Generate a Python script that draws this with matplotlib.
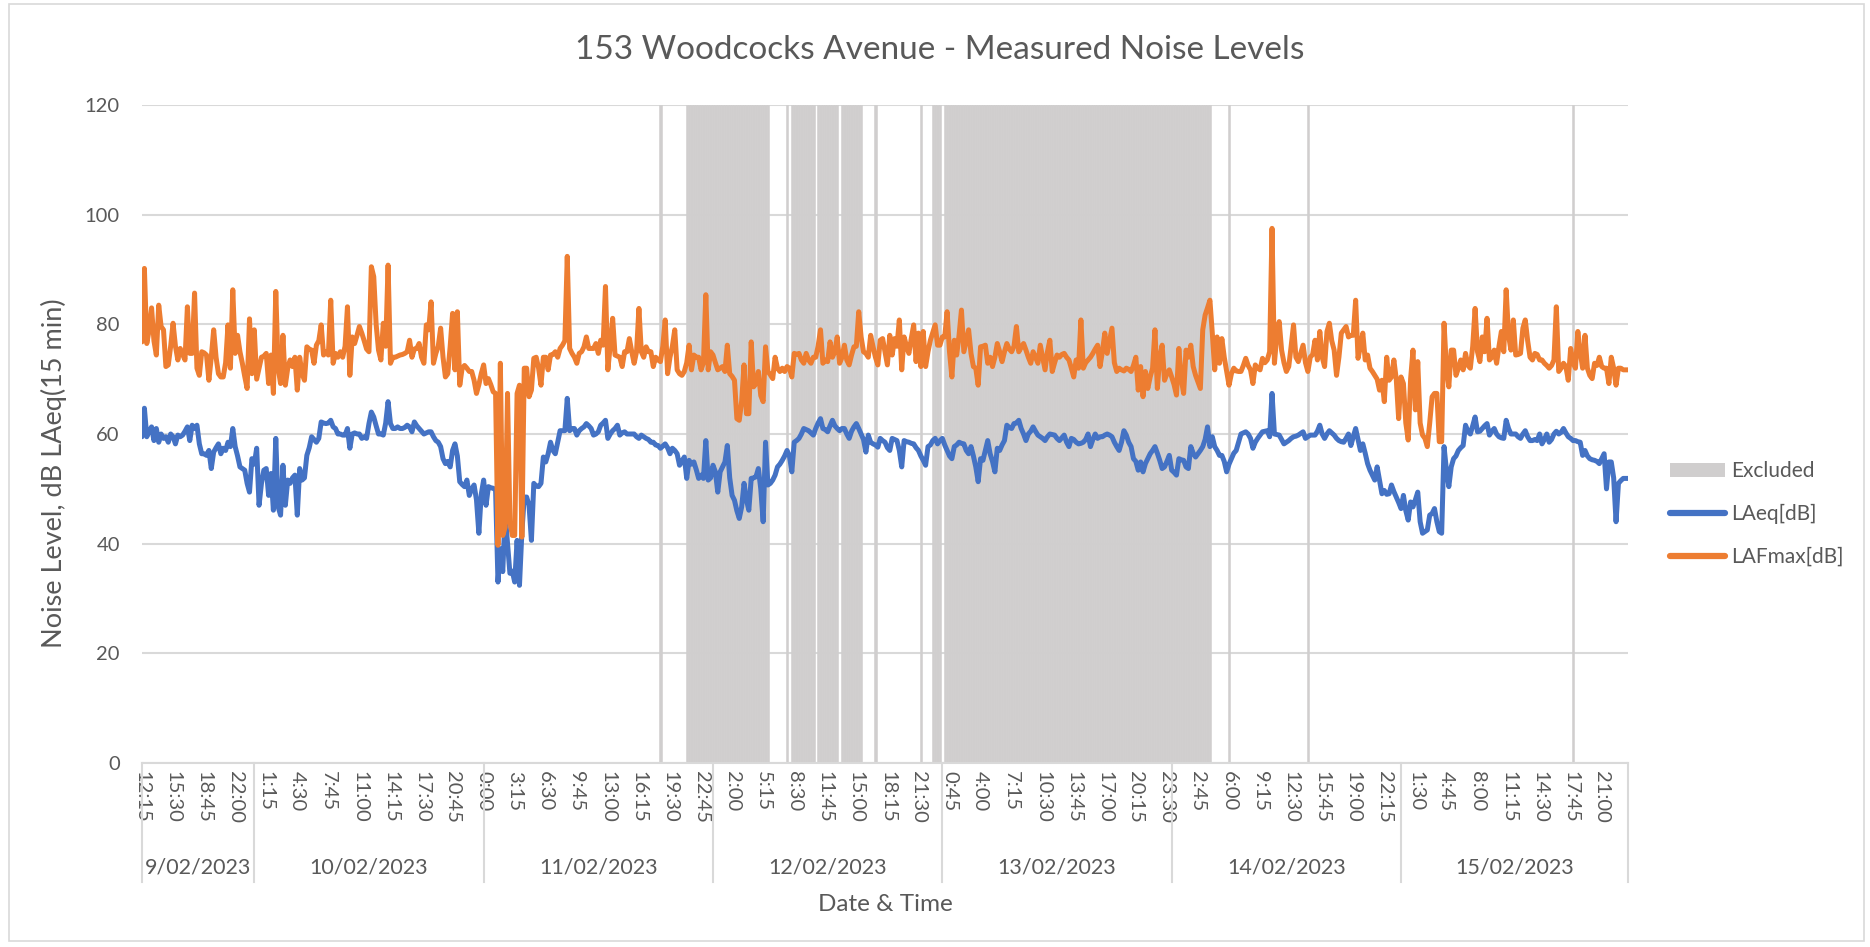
import matplotlib
matplotlib.use('Agg')
import matplotlib.pyplot as plt
import matplotlib.transforms as mtransforms
from matplotlib.patches import Patch, Rectangle
from matplotlib.lines import Line2D
import numpy as np
import pandas as pd

plt.rcParams['font.family'] = ['Lato', 'DejaVu Sans']

# ---------------- data ----------------
start_time = '2023-02-09 12:15'
n_points = 623
times = pd.date_range(start_time, periods=n_points, freq='15min')

laeq = [
    59.5, 64.7, 59.5, 60.5, 61.3, 58.8, 61, 58.5, 60, 59.2,
    59.5, 58.5, 60, 59.5, 58.2, 59.8, 59.5, 59.8, 60.5, 61.3,
    58.8, 61.6, 61, 61.6, 58.2, 56.4, 56.4, 56.1, 57, 53.7,
    56.7, 57.5, 58.2, 56.4, 57.4, 57, 58.5, 57.7, 61, 57.7,
    56, 54, 53.7, 53.4, 51, 49.4, 55.5, 54.5, 57.4, 47,
    51, 53.4, 53.7, 48.8, 52.8, 46.1, 59.2, 46.7, 45.2, 54.3,
    47, 51.6, 51, 52, 52.5, 45.2, 53.7, 51.6, 52, 56.1,
    57.5, 59.5, 59, 58.5, 59.2, 62.2, 62, 61.9, 62, 62.5,
    61.3, 61, 60, 60, 59.8, 59.8, 61, 57.4, 60, 60.2,
    60, 60, 59.2, 59.5, 59.2, 61.9, 64, 63.1, 61.5, 60,
    60, 59.8, 62, 65.9, 61.9, 61, 61, 61.3, 61, 61,
    61.2, 61.6, 61.3, 60.4, 62.2, 61.5, 61, 60.5, 60, 60.2,
    60.4, 60.4, 59.5, 58.8, 58.5, 57.7, 55.5, 54.6, 55, 54,
    57, 58.2, 56, 51.3, 50.8, 50.4, 51.6, 48.8, 50, 50.7,
    48, 41.9, 49, 51.6, 47, 50.4, 50.2, 50.1, 49.8, 33,
    39.1, 34.9, 45.5, 40, 34.6, 35, 33, 40.6, 32.4, 42,
    48.5, 48.5, 47, 40.6, 51, 50.5, 50.4, 51, 55.8, 54.9,
    56.4, 58.5, 57, 56.4, 58.5, 60.6, 60.6, 60.6, 66.5, 60.6,
    61, 61, 59.8, 60.6, 61, 61.3, 61.9, 61.5, 61, 59.8,
    60, 60.4, 61.6, 62, 62.5, 59.2, 60, 60.6, 61, 61.6,
    59.8, 60.2, 60.4, 60, 60, 60, 60, 59.5, 59.2, 59.8,
    59.5, 59.2, 59, 58.5, 58.5, 58, 57.9, 57.4, 57.8, 58.2,
    57.5, 56.4, 57.4, 57, 56.4, 54.3, 55, 55.8, 51.9, 55.2,
    54.5, 54.9, 53.5, 51.9, 52.5, 51.9, 58.8, 51.6, 52, 54.3,
    53.1, 49.4, 53.1, 54, 54.9, 57.9, 52, 48.8, 47.9, 46,
    44.6, 46.7, 51, 48, 46.1, 51.9, 52, 52.2, 53.7, 50,
    44, 58.5, 50.7, 51, 51.6, 52.5, 54, 54.5, 55.2, 56,
    57, 56, 53.1, 58.5, 58.8, 59.2, 60, 61, 60.8, 60.6,
    60.2, 59.8, 61, 62, 62.8, 61, 60.8, 60.4, 61.5, 62.5,
    61.5, 61, 60.6, 61, 61, 60, 59.2, 60.5, 61.3, 61.9,
    61, 60, 59, 56.7, 59.8, 58.5, 58.2, 58, 57.6, 59.2,
    58.8, 58.5, 57.5, 57, 59.2, 59, 58.8, 57, 54, 58.8,
    58.6, 58.5, 58.3, 58.2, 57.5, 57, 56, 55.2, 54.3, 57.7,
    58, 58.8, 59.2, 58.2, 58.8, 59.2, 58, 57, 56, 55.5,
    57.7, 58, 58.5, 58.3, 58.2, 57, 56.4, 57.7, 56, 54,
    51.3, 55.5, 55.2, 57, 58.8, 56.4, 55, 53.1, 57.4, 57,
    58, 58.8, 61.6, 61.2, 61, 61.9, 62, 62.5, 61, 60,
    58.8, 60, 60.5, 61.3, 60.5, 59.8, 59.5, 59.2, 58.8, 59.5,
    60, 59.9, 59.8, 59.2, 58.8, 59.3, 59.8, 58.5, 57.7, 59.2,
    59, 58.5, 58.2, 58.3, 58.5, 59, 60, 57.7, 59, 60,
    59.2, 59.5, 59.5, 59.8, 60, 59.8, 59.5, 58.5, 57.7, 57,
    58.5, 60.6, 59.8, 58.5, 57.7, 55.5, 55, 53.4, 54.9, 53.1,
    54.6, 55.5, 56.4, 57, 57.7, 56.5, 55.2, 53.7, 54, 55,
    56.1, 53.4, 53, 52.5, 55.5, 55.3, 55.2, 54, 53.7, 57.7,
    56.5, 55.8, 56.4, 57, 57.7, 59, 61.3, 57.7, 59.5, 57.7,
    57, 56.1, 56.1, 55, 53.1, 54.5, 55.5, 56.5, 57, 58.5,
    60, 60.2, 60.4, 60, 59.2, 57.4, 58.5, 59.2, 59.8, 60.4,
    60.5, 60.6, 59.5, 67.4, 60, 59.9, 59.8, 59, 58.2, 58.5,
    58.8, 59.2, 59.5, 59.6, 59.8, 60.1, 60.4, 59.2, 59.5, 59.8,
    59.8, 59.8, 60.5, 61.6, 60, 59.2, 60, 60.6, 60.2, 59.8,
    59.2, 58.8, 58.6, 58.5, 59.2, 60, 57.9, 59.5, 61, 59,
    57, 58.2, 56.5, 54.6, 53.4, 52.5, 51.6, 54, 51.5, 49.1,
    49.7, 49, 49.1, 50.7, 49.5, 48.5, 47.5, 46.4, 48.8, 46,
    44.3, 47.6, 46.7, 48, 49.4, 44, 41.9, 42.2, 42.5, 45.2,
    45.5, 46.4, 44, 42.2, 41.9, 57.7, 53.4, 50.4, 54, 55.5,
    56, 57, 57.5, 57.9, 61.6, 60.5, 60, 61.5, 63.1, 60.4,
    60.5, 61, 61.5, 61.9, 59.8, 60.5, 61, 60, 59.5, 59.3,
    59.2, 62.5, 61, 60, 60, 60, 59.5, 59.2, 60, 60.6,
    59.5, 58.8, 58.8, 59, 58.8, 60, 58.2, 59, 60, 58.5,
    59, 60, 60.5, 60, 60.3, 61, 60.2, 59.5, 59.2, 58.8,
    58.8, 58.6, 58.5, 56.1, 57, 56, 55.5, 55.3, 55.2, 55,
    54.6, 55.5, 56.4, 50, 54.9, 54.9, 52, 44, 51, 51.5,
    51.9, 51.9, 51.9,
]

lafmax = [
    76.8, 90.2, 76.5, 79, 83, 77, 74.4, 83.5, 79.6, 79,
    72.3, 72.6, 76, 80.2, 76, 73.5, 75.6, 74.5, 73.5, 83.2,
    74.7, 74.7, 85.7, 72, 70.7, 75, 74.8, 74.4, 69.8, 74,
    79, 74, 71, 70.4, 70.4, 73, 79.9, 72, 86.3, 74.7,
    78, 75, 72.9, 70.5, 68.3, 81, 71, 79, 70, 72,
    74, 74.2, 74.7, 69.2, 74.4, 67.4, 86, 72, 69.2, 78,
    68.9, 72, 73.5, 72.3, 74, 68, 74, 71, 69.8, 75.9,
    75.5, 75.3, 72.9, 76.2, 77, 79.9, 74.4, 75, 74.4, 84.4,
    72.9, 74.7, 74, 75, 74, 76, 83.2, 70.7, 77.7, 76.5,
    78, 79.6, 78.4, 77, 75.5, 75, 90.5, 88.7, 80, 75.3,
    73.5, 80.2, 76, 90.8, 72.9, 74, 74, 74.2, 74.4, 74.5,
    74.7, 75, 77.1, 74, 75.5, 75.6, 76.5, 74, 72.9, 79.9,
    79, 84.1, 72.9, 74.7, 76, 79.3, 74, 70.4, 71, 76,
    82, 71.7, 82.3, 68.9, 72, 72.5, 72, 71.4, 71.4, 69.8,
    67.4, 69, 71, 72.6, 69.2, 70.1, 69, 67.7, 67.4, 39.7,
    72.9, 41.5, 43, 67.4, 44, 41.5, 41.5, 67.4, 68.9, 41.2,
    72, 72, 66.8, 68, 73.8, 74, 72, 68.9, 74, 74,
    71.7, 74.4, 74.5, 75, 74, 75.6, 76.2, 77, 92.4, 75.6,
    74.7, 74, 72.9, 74.7, 75, 75.9, 77.7, 75.6, 75.6, 75.6,
    76.5, 74.7, 77.1, 76.2, 86.9, 71.7, 76.2, 81.1, 74.4, 74.2,
    74, 72.3, 75, 75, 77.4, 75, 72.9, 75, 82.9, 75,
    74, 75.9, 75, 75, 72.3, 74, 73.5, 73.2, 76, 80.8,
    71, 74, 76, 79, 71.7, 71, 70.7, 71.4, 73, 76.2,
    71.7, 74.4, 74, 74, 71.7, 73, 85.4, 71.7, 75, 74.4,
    73, 71.7, 72, 72.3, 71.4, 76.2, 71, 70.5, 69.8, 62.8,
    62.5, 66, 72.6, 63.7, 63.7, 76.8, 68.6, 69.2, 71.4, 67,
    65.9, 75.9, 71.4, 70.8, 70.1, 74, 72, 71.4, 72, 71.4,
    72.3, 72, 70.4, 74.7, 74.5, 74.7, 73.5, 72.9, 74.7, 73.5,
    72.9, 74, 74, 76, 79, 72.9, 73.5, 73.2, 76.8, 74,
    75, 77.7, 72.9, 74, 76.2, 73.5, 72.6, 74.4, 75.9, 76,
    82.3, 77.7, 75, 74.7, 74, 78, 75.9, 74, 72.6, 77.1,
    77.4, 75, 72.6, 78, 74.4, 77.4, 76, 80.8, 71.7, 77.7,
    76, 74.7, 77.4, 79.9, 73.2, 78.4, 72.3, 78.7, 72.3, 75,
    77.1, 78.5, 79.9, 76.2, 76.2, 77.7, 77.7, 82.3, 75, 70.4,
    77.1, 74.4, 78, 82.6, 75, 77, 79, 74.7, 72.3, 72,
    68.9, 75.9, 76, 76.2, 72.9, 74, 72.3, 74, 76.5, 75,
    73.2, 75, 76.5, 75.5, 75, 76, 79.6, 75, 75.8, 76.5,
    75.3, 74, 72.9, 75, 74, 72.9, 76.2, 74, 71.7, 75,
    77.1, 71.4, 73, 74.4, 74, 74.5, 74.7, 74, 73.5, 72,
    70.4, 73.5, 72, 80.8, 72, 73, 73.5, 74, 74.7, 75.5,
    76.2, 72.3, 75, 78.4, 74.7, 77, 79.3, 73, 71.4, 72,
    71.7, 71.5, 72, 71.8, 71.4, 72.5, 74, 68, 72.3, 66.8,
    71.4, 68.3, 70.4, 72, 79, 68.3, 74, 76.2, 69.8, 71,
    71.7, 70.4, 69, 67.1, 75.6, 70, 67.4, 75.3, 74, 76.2,
    72.3, 70.7, 69.5, 68.3, 79, 81.7, 83, 84.4, 78.4, 71.7,
    77.7, 72.9, 77.4, 74, 71.4, 68.9, 71, 72, 71.5, 71.4,
    71.4, 72.5, 73.8, 72.5, 71.7, 69.2, 72.6, 72, 71.7, 73.8,
    73, 73.5, 75, 97.5, 72.9, 78, 80.5, 75.3, 73, 71.4,
    72.3, 76, 79.9, 74, 73.2, 74.7, 76.2, 73, 71.4, 74,
    74.5, 77.1, 73.5, 78.7, 74, 72.3, 78.7, 80.2, 77, 75.3,
    70.7, 74, 78.4, 79, 79.6, 77.7, 78, 78, 84.4, 73.8,
    76, 78.4, 73.5, 74.4, 72, 71.4, 70.7, 70, 68, 69.8,
    65.9, 74, 69.8, 70.4, 73.5, 70, 62.8, 70.4, 69.2, 62,
    58.9, 70, 75.3, 64.4, 73.2, 62, 59.8, 59.2, 57.7, 62,
    66.8, 67.4, 67.4, 58.6, 58.6, 80.2, 72, 68.6, 75.3, 75.3,
    70.7, 72, 73.5, 71.7, 74.7, 72.5, 72, 76, 82.9, 75,
    73.2, 77.7, 75, 81.1, 73.5, 74, 75.3, 72.9, 76, 78.7,
    75, 86.3, 78, 75.3, 80.8, 74.4, 74.5, 74.7, 79.3, 80.8,
    77, 74, 73.5, 74.7, 74.5, 73.5, 73.5, 72.9, 72.5, 72,
    72.5, 73.5, 83.2, 71.4, 72, 72.9, 72.3, 69.8, 75.6, 73,
    72, 78.7, 75, 72, 78, 72, 70.7, 70.1, 72.9, 72.5,
    74, 72.3, 72, 72, 69.2, 74, 72, 68.9, 72, 72,
    71.7, 71.7, 71.7,
]

# Excluded measurement periods (inclusive, 15-min intervals)
excluded_periods = [
    ('2023-02-11 18:30', '2023-02-11 18:30'),
    ('2023-02-11 21:15', '2023-02-12 05:45'),
    ('2023-02-12 07:45', '2023-02-12 07:45'),
    ('2023-02-12 08:15', '2023-02-12 10:30'),
    ('2023-02-12 11:00', '2023-02-12 13:00'),
    ('2023-02-12 13:30', '2023-02-12 15:30'),
    ('2023-02-12 17:00', '2023-02-12 17:00'),
    ('2023-02-12 21:45', '2023-02-12 21:45'),
    ('2023-02-12 23:00', '2023-02-12 23:45'),
    ('2023-02-13 00:15', '2023-02-14 04:00'),
    ('2023-02-14 06:00', '2023-02-14 06:00'),
    ('2023-02-14 14:15', '2023-02-14 14:15'),
    ('2023-02-15 18:00', '2023-02-15 18:00'),
]
excluded_level = 120

y_ticks = [0, 20, 40, 60, 80, 100, 120]
label_every = 13

# ---------------- build ----------------
n = min(len(laeq), len(lafmax), n_points)
times = times[:n]
x = np.arange(n)
excl = np.zeros(n)
for s, e in excluded_periods:
    m = (times >= pd.Timestamp(s)) & (times <= pd.Timestamp(e))
    excl[m] = excluded_level

W, H = 1870, 947
fig = plt.figure(figsize=(W / 100, H / 100), dpi=100)
L, R, B, T = 142, 1628, 763, 105
ax = fig.add_axes([L / W, 1 - B / H, (R - L) / W, (B - T) / H])

GRID = '#D9D9D9'
TXT = '#595959'
BLUE = '#4472C4'
ORANGE = '#ED7D31'
EXCL = '#D0CECE'

ax.bar(x, excl, width=1.0, color=EXCL, edgecolor=EXCL, linewidth=0.4, zorder=1)
ax.plot(x, laeq[:n], color=BLUE, lw=3.6, solid_joinstyle='round', solid_capstyle='round', zorder=3)
ax.plot(x, lafmax[:n], color=ORANGE, lw=3.6, solid_joinstyle='round', solid_capstyle='round', zorder=4)

ax.set_xlim(0, n - 1)
ax.set_ylim(0, 120)
ax.set_yticks(y_ticks)
ax.set_yticklabels([str(v) for v in y_ticks], fontsize=14.5, color=TXT)
ax.yaxis.grid(True, color=GRID, lw=1.5, zorder=0)
ax.set_axisbelow(True)
for sp in ['top', 'right', 'left']:
    ax.spines[sp].set_visible(False)
ax.spines['bottom'].set_color(GRID)
ax.spines['bottom'].set_linewidth(1.5)
ax.tick_params(axis='y', length=0, pad=16)

tick_pos = x[::label_every]
tick_lab = [f"{t.hour}:{t.minute:02d}" for t in times[::label_every]]
ax.set_xticks(tick_pos)
ax.set_xticklabels(tick_lab, rotation=-90, fontsize=14.5, color=TXT, va='top', ha='center')
ax.tick_params(axis='x', length=0, pad=6)

# date groups
trans = mtransforms.blended_transform_factory(ax.transData, ax.transAxes)
days = pd.Series(times.normalize())
day_starts = [i for i in range(n) if i == 0 or days[i] != days[i - 1]]
bounds = day_starts + [n - 1]
ax_h = B - T
for i in range(len(day_starts)):
    a, b = bounds[i], bounds[i + 1]
    d = days[a]
    ax.text((a + b) / 2, -(867 - B) / ax_h, f"{d.day}/{d.month:02d}/{d.year}", transform=trans,
            ha='center', va='center', fontsize=15.5, color=TXT, clip_on=False)
for bpos in bounds:
    ax.plot([bpos, bpos], [0, -(882 - B) / ax_h], transform=trans, color=GRID, lw=1.5, clip_on=False)

fig.text(940 / W, 1 - 50 / H, '153 Woodcocks Avenue - Measured Noise Levels', ha='center', va='center',
         fontsize=24, color=TXT)
fig.text(54 / W, 1 - 473 / H, 'Noise Level, dB LAeq(15 min)', rotation=90, ha='center', va='center',
         fontsize=19.5, color=TXT)
fig.text(885 / W, 1 - 904 / H, 'Date & Time', ha='center', va='center', fontsize=17.5, color=TXT)

handles = [Patch(facecolor=EXCL, edgecolor='none'),
           Line2D([0], [0], color=BLUE, lw=4.5, solid_capstyle='round'),
           Line2D([0], [0], color=ORANGE, lw=4.5, solid_capstyle='round')]
fig.legend(handles, ['Excluded', 'LAeq[dB]', 'LAFmax[dB]'], loc='center left',
           bbox_to_anchor=(1660 / W, 1 - 514 / H), frameon=False, fontsize=15, labelcolor=TXT,
           handlelength=2.6, handleheight=0.65, handletextpad=0.3, labelspacing=1.1, borderpad=0)

fig.add_artist(Rectangle((0.005, 0.006), 0.992, 0.99, transform=fig.transFigure, fill=False,
                         edgecolor=GRID, lw=1.2))

fig.savefig('out.png', dpi=100)
